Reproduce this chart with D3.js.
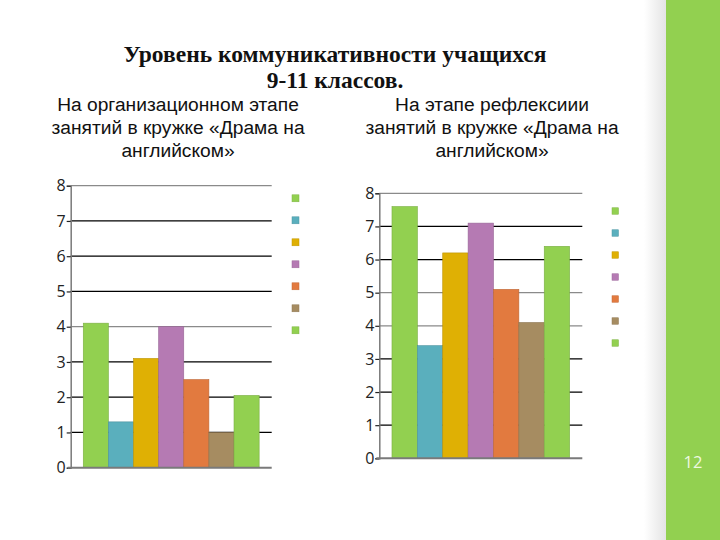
<!DOCTYPE html>
<html><head><meta charset="utf-8">
<script src="https://cdn.jsdelivr.net/npm/d3@7/dist/d3.min.js"></script>
<style>body{margin:0;background:#fff}svg{display:block}</style>
</head><body>
<svg id="c" width="720" height="540"></svg>
<script>
const categories = ["1","2","3","4","5","6","7"];
const valuesBefore = [4.1, 1.3, 3.1, 4.0, 2.5, 1.0, 2.05];
const valuesAfter = [7.6, 3.4, 6.2, 7.1, 5.1, 4.1, 6.4];
const yTicks = [0,1,2,3,4,5,6,7,8];
const colors = ["#92d050","#5aafbd","#dfb004","#b57ab3","#e27a3f","#a68c61","#92d050"];
const titleLines = ["Уровень коммуникативности учащихся","9-11 классов."];
const subLeft = ["На организационном этапе","занятий в кружке «Драма на","английском»"];
const subRight = ["На этапе рефлексиии","занятий в кружке «Драма на","английском»"];
const pageNumber = "12";

const svg = d3.select("#c");
const defs = svg.append("defs");
const g1 = defs.append("linearGradient").attr("id","sh").attr("x1","0").attr("x2","1");
g1.append("stop").attr("offset","0").attr("stop-color","#fff");
g1.append("stop").attr("offset","1").attr("stop-color","#e4e4e4");
svg.append("rect").attr("x",0).attr("y",0).attr("width",720).attr("height",540).attr("fill","#fff");
svg.append("rect").attr("x",644).attr("y",0).attr("width",22).attr("height",540).attr("fill","url(#sh)");
svg.append("rect").attr("x",666).attr("y",0).attr("width",54).attr("height",540).attr("fill","#92d050");
svg.append("text").attr("x",693).attr("y",468).attr("text-anchor","middle")
  .attr("font-family","'Open Sans', sans-serif").attr("font-size",16.5).attr("fill","#eef8e0").text(pageNumber);

svg.selectAll("text.title").data(titleLines).join("text").attr("class","title")
  .attr("x",335).attr("y",(d,i)=>62+i*26).attr("text-anchor","middle")
  .attr("font-family","'Liberation Serif', serif").attr("font-weight","bold").attr("font-size",23.5)
  .attr("fill","#111").text(d=>d);

function subtitle(lines, cx){
  svg.append("g").selectAll("text").data(lines).join("text")
    .attr("x",cx).attr("y",(d,i)=>111+i*23).attr("text-anchor","middle")
    .attr("font-family","'Liberation Sans', Arial, sans-serif").attr("font-size",19.2)
    .attr("fill","#111").text(d=>d);
}
subtitle(subLeft,178);
subtitle(subRight,492);

function chart(vals, x0, x1, yTop, yBot, legX, legY0, legSize, grayLines){
  const g = svg.append("g");
  const x = d3.scaleBand().domain(categories).range([x0,x1]).paddingInner(0).paddingOuter(0.5);
  const y = d3.scaleLinear().domain([0,8]).range([yBot,yTop]);
  g.selectAll("line.grid").data(yTicks.filter(t=>t>0)).join("line")
    .attr("x1",x0).attr("x2",x1).attr("y1",d=>y(d)).attr("y2",d=>y(d))
    .attr("stroke",d=>grayLines.includes(d)?"#8a8a8a":"#000").attr("stroke-width",1.3);
  g.selectAll("rect.bar").data(vals).join("rect")
    .attr("x",(d,i)=>x(categories[i])).attr("width",x.bandwidth())
    .attr("y",d=>y(d)).attr("height",d=>yBot-y(d))
    .attr("fill",(d,i)=>colors[i])
    .attr("stroke",(d,i)=>d3.color(colors[i]).darker(0.5)).attr("stroke-width",0.6);
  const ax = d3.axisLeft(y).tickValues(yTicks).tickSize(4).tickPadding(1).tickFormat(d3.format("d"));
  const ag = g.append("g").attr("transform",`translate(${x0},0)`).call(ax);
  ag.attr("font-size",null).attr("font-family",null);
  ag.select(".domain").attr("stroke","#7a7a7a").attr("stroke-width",1.5);
  ag.selectAll(".tick line").attr("stroke","#222").attr("stroke-width",1.2);
  ag.selectAll(".tick text").style("font-family","'Open Sans', sans-serif").style("font-size","16px").attr("fill","#222");
  g.append("line").attr("x1",x0-3).attr("x2",x1).attr("y1",yBot).attr("y2",yBot)
    .attr("stroke","#7a7a7a").attr("stroke-width",2);
  g.selectAll("rect.leg").data(colors).join("rect")
    .attr("x",legX).attr("y",(d,i)=>legY0+i*22-legSize/2).attr("width",legSize).attr("height",legSize)
    .attr("fill",d=>d).attr("stroke",d=>d3.color(d).darker(0.4)).attr("stroke-width",0.5);
}
chart(valuesBefore, 70.7, 271.7, 185.7, 467.7, 292, 198.3, 7, [4,8]);
chart(valuesAfter, 379.3, 582.3, 193.3, 458.3, 612, 211, 6.5, [4,5,8]);
</script>
</body></html>
